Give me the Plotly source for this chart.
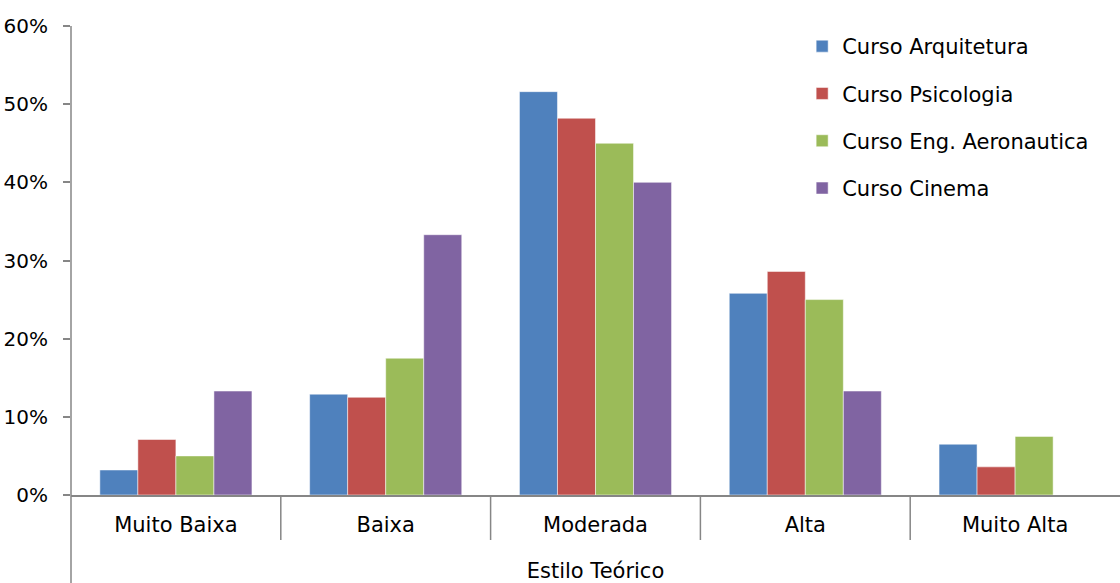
import plotly.graph_objects as go

categories = ["Muito Baixa", "Baixa", "Moderada", "Alta", "Muito Alta"]
series_names = ["Curso Arquitetura", "Curso Psicologia", "Curso Eng. Aeronautica", "Curso Cinema"]
arquitetura = [0.032, 0.129, 0.516, 0.258, 0.065]
psicologia = [0.071, 0.125, 0.482, 0.286, 0.036]
aeronautica = [0.050, 0.175, 0.450, 0.250, 0.075]
cinema = [0.133, 0.333, 0.400, 0.133, 0.0]
colors = ["#4F81BD", "#C0504D", "#9BBB59", "#8064A2"]
y_ticks = [0, 0.1, 0.2, 0.3, 0.4, 0.5, 0.6]
x_title = "Estilo Teórico"

FONT = "DejaVu Sans, sans-serif"
W, H = 1120, 583
ML, MR, MT, MB = 71, 0, 26, 88

fig = go.Figure()
for name, vals, col in zip(series_names, [arquitetura, psicologia, aeronautica, cinema], colors):
    fig.add_trace(go.Bar(
        x=categories, y=vals, name=name, legendgroup=name,
        marker=dict(color=col, line=dict(color="rgba(255,255,255,0.5)", width=1)),
    ))

plot_h = H - MT - MB
shapes = []
shapes.append(dict(type="line", xref="paper", yref="paper", x0=0, x1=0,
                   y0=-MB / plot_h, y1=1, line=dict(color="#868686", width=1.5)))
for i in range(len(categories) - 1):
    shapes.append(dict(type="line", xref="x", yref="paper", x0=i + 0.5, x1=i + 0.5,
                       y0=0, y1=-45 / plot_h, line=dict(color="#868686", width=1.5)))

fig.update_layout(
    width=W, height=H,
    margin=dict(l=ML, r=MR, t=MT, b=MB, pad=0),
    paper_bgcolor="white", plot_bgcolor="white",
    font=dict(family=FONT, size=21, color="#000000"),
    barmode="group", bargap=0.275, bargroupgap=0,
    showlegend=True,
    legend=dict(x=0.697, y=1.0, xanchor="left", yanchor="top",
                font=dict(size=21), tracegroupgap=17, bgcolor="rgba(0,0,0,0)"),
    shapes=shapes,
    xaxis=dict(showline=True, linecolor="#868686", linewidth=1.5, ticks="",
               showgrid=False, ticklabelstandoff=10, automargin=False,
               title=dict(text=x_title, standoff=31, font=dict(size=21))),
    yaxis=dict(range=[0, 0.6], tickvals=y_ticks, tickformat=".0%", showgrid=False,
               showline=False, zeroline=False, ticks="outside", ticklen=7,
               tickcolor="#868686", tickwidth=1.5, ticklabelstandoff=11,
               automargin=False, tickfont=dict(size=20)),
)

fig.write_html(
    "out.html",
    config={"displayModeBar": False},
    post_script="document.body.style.margin='0';document.body.style.overflow='hidden';",
)
